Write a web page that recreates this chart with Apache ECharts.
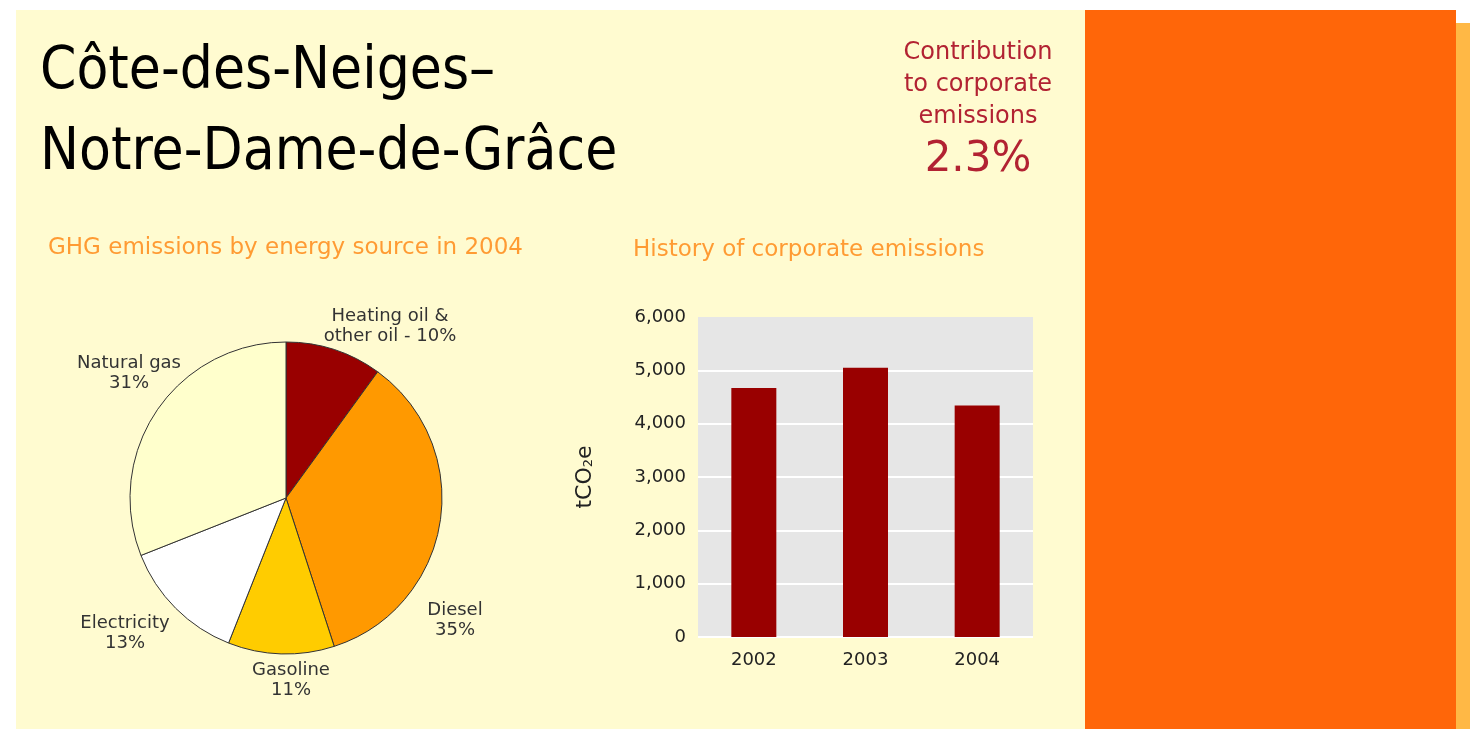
<!DOCTYPE html>
<html>
<head>
<meta charset="utf-8">
<title>Côte-des-Neiges–Notre-Dame-de-Grâce</title>
<script src="https://cdn.jsdelivr.net/npm/echarts@6/dist/echarts.min.js"></script>
<style>
  html, body { margin: 0; padding: 0; background: #ffffff; }
  #main { width: 1471px; height: 729px; }
</style>
</head>
<body>
<div id="main"></div>
<script>
// pie: share of GHG emissions by energy source, 2004 (%)
var sourceNames = ['Heating oil &\nother oil', 'Diesel', 'Gasoline', 'Electricity', 'Natural gas'];
var sourceShares = [10, 35, 11, 13, 31];
var sourceColors = ['#990000', '#FF9900', '#FFCC00', '#FFFFFF', '#FFFFCC'];

// bars: history of corporate emissions (tCO2e)
var years = ['2002', '2003', '2004'];
var emissions = [4670, 5050, 4340];

var contribution = '2.3%';

var myChart = echarts.init(document.getElementById('main'));

// where each pie label sits (label centres)
var labelSpots = [[390, 326], [455, 620], [291, 680], [125, 633], [129, 373]];

var sans = '"DejaVu Sans", Verdana, sans-serif';
var narrow = '"Liberation Sans Narrow", "DejaVu Sans Condensed", sans-serif';

var pieData = sourceNames.map(function (n, i) {
  return { name: n, value: sourceShares[i], itemStyle: { color: sourceColors[i] } };
});

var option = {
  animation: false,
  graphic: [
    { type: 'rect', z: -10, shape: { x: 16, y: 10, width: 1069, height: 719 }, style: { fill: '#FFFBD0' } },
    { type: 'rect', z: -10, shape: { x: 1085, y: 10, width: 371, height: 719 }, style: { fill: '#FF6609' } },
    { type: 'rect', z: -10, shape: { x: 1456, y: 23, width: 14, height: 706 }, style: { fill: '#FFB845' } },
    { type: 'text', z: 100, x: 40, y: 73, style: { text: 'Côte-des-Neiges–', fill: '#000', font: '58px ' + narrow, verticalAlign: 'middle' } },
    { type: 'text', z: 100, x: 40, y: 154, style: { text: 'Notre-Dame-de-Grâce', fill: '#000', font: '58px ' + narrow, verticalAlign: 'middle' } },
    { type: 'text', z: 100, x: 978, y: 85, style: { text: 'Contribution\nto corporate\nemissions', fill: '#B22232', font: '24px ' + sans, lineHeight: 32, align: 'center', verticalAlign: 'middle' } },
    { type: 'text', z: 100, x: 978, y: 160, style: { text: contribution, fill: '#B22232', font: '42px ' + sans, align: 'center', verticalAlign: 'middle' } },
    { type: 'text', z: 100, x: 48, y: 248, style: { text: 'GHG emissions by energy source in 2004', fill: '#FF9B33', font: '23px ' + sans, verticalAlign: 'middle' } },
    { type: 'text', z: 100, x: 633, y: 250, style: { text: 'History of corporate emissions', fill: '#FF9B33', font: '23px ' + sans, verticalAlign: 'middle' } }
  ],
  grid: {
    left: 698, top: 317, width: 335, height: 320,
    show: true, backgroundColor: '#E6E6E6', borderWidth: 0
  },
  xAxis: {
    type: 'category',
    data: years,
    axisLine: { show: false },
    axisTick: { show: false },
    axisLabel: { color: '#222', fontFamily: sans, fontSize: 18, margin: 14 }
  },
  yAxis: {
    type: 'value',
    min: 0, max: 6000, interval: 1000,
    name: '{a|tCO}{b|2}{a|e}',
    nameLocation: 'middle',
    nameGap: 102,
    nameTextStyle: {
      rich: {
        a: { fontFamily: sans, fontSize: 22, color: '#222' },
        b: { fontFamily: sans, fontSize: 13, color: '#222', padding: [8, 0, 0, 0] }
      }
    },
    axisLine: { show: false },
    axisTick: { show: false },
    axisLabel: {
      color: '#222', fontFamily: sans, fontSize: 18, margin: 12,
      formatter: function (v) { return v.toLocaleString('en-US'); }
    },
    splitLine: { show: true, showMaxLine: false, lineStyle: { color: '#FFFFFF', width: 2 } }
  },
  series: [
    {
      type: 'pie',
      center: [286, 498],
      radius: 156,
      startAngle: 90,
      clockwise: true,
      silent: true,
      data: pieData,
      itemStyle: { borderColor: '#333', borderWidth: 1 },
      label: {
        show: true,
        position: 'outside',
        overflow: 'none',
        color: '#333',
        fontFamily: sans,
        fontSize: 18,
        lineHeight: 20,
        formatter: function (p) {
          return p.dataIndex === 0 ? p.name + ' - ' + p.value + '%' : p.name + '\n' + p.value + '%';
        }
      },
      labelLine: { show: false },
      labelLayout: function (p) {
        var s = labelSpots[p.dataIndex];
        return { x: s[0], y: s[1], align: 'center', verticalAlign: 'middle' };
      },
      emphasis: { disabled: true }
    },
    {
      type: 'bar',
      data: emissions,
      barWidth: 45,
      silent: true,
      itemStyle: { color: '#990000' }
    }
  ]
};

myChart.setOption(option);
window.addEventListener('resize', function () { myChart.resize(); });
</script>
</body>
</html>
